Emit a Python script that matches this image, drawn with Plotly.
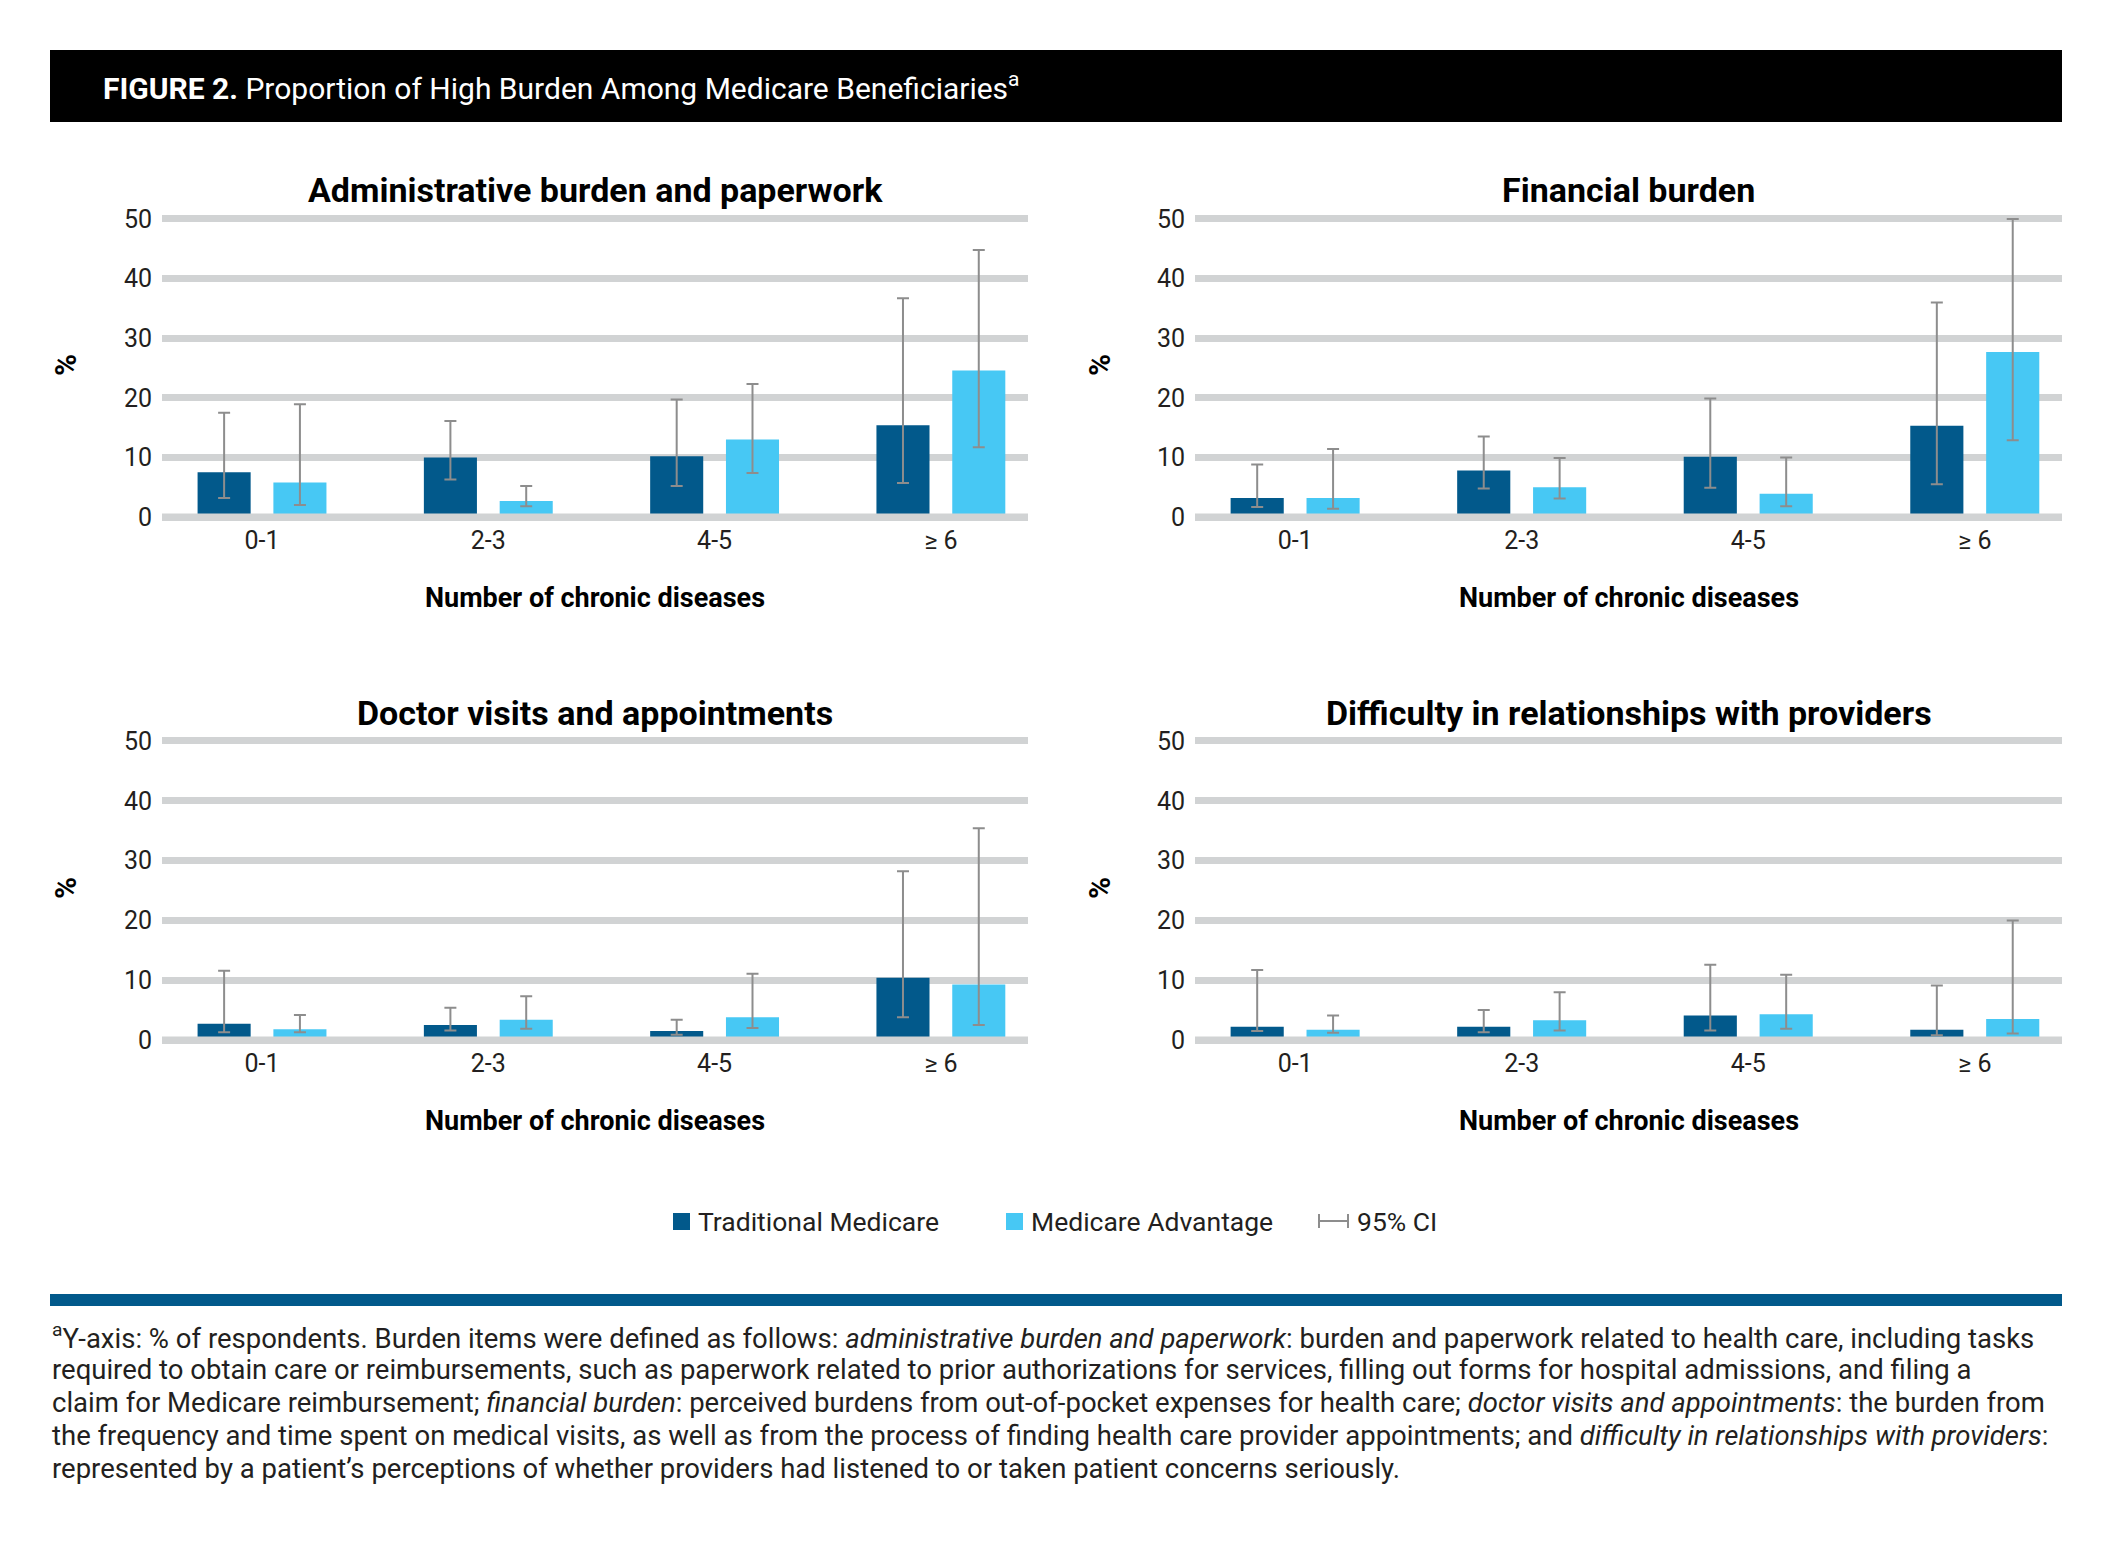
import plotly.graph_objects as go

W, H = 2113, 1546

categories = ["0-1", "2-3", "4-5", "≥ 6"]
panel_titles = [
    "Administrative burden and paperwork",
    "Financial burden",
    "Doctor visits and appointments",
    "Difficulty in relationships with providers",
]

# Traditional Medicare / Medicare Advantage: value, lower CI, upper CI
tm_admin = [7.5, 10.0, 10.2, 15.4]
tm_admin_lo = [3.2, 6.3, 5.2, 5.7]
tm_admin_hi = [17.5, 16.1, 19.7, 36.7]
ma_admin = [5.8, 2.7, 13.0, 24.6]
ma_admin_lo = [2.0, 1.8, 7.4, 11.7]
ma_admin_hi = [18.9, 5.2, 22.3, 44.8]

tm_fin = [3.2, 7.8, 10.1, 15.3]
tm_fin_lo = [1.7, 4.8, 4.9, 5.5]
tm_fin_hi = [8.8, 13.5, 19.9, 36.0]
ma_fin = [3.2, 5.0, 3.9, 27.7]
ma_fin_lo = [1.4, 3.1, 1.8, 12.9]
ma_fin_hi = [11.4, 9.9, 10.0, 50.0]

tm_doc = [2.7, 2.5, 1.5, 10.4]
tm_doc_lo = [1.3, 1.6, 0.9, 3.8]
tm_doc_hi = [11.6, 5.4, 3.4, 28.2]
ma_doc = [1.8, 3.4, 3.8, 9.3]
ma_doc_lo = [1.3, 1.9, 2.0, 2.5]
ma_doc_hi = [4.2, 7.3, 11.1, 35.4]

tm_rel = [2.2, 2.2, 4.1, 1.7]
tm_rel_lo = [1.5, 1.3, 1.6, 0.8]
tm_rel_hi = [11.7, 5.0, 12.6, 9.1]
ma_rel = [1.7, 3.3, 4.3, 3.5]
ma_rel_lo = [1.2, 1.6, 1.9, 1.1]
ma_rel_hi = [4.1, 8.0, 10.9, 20.0]

y_ticks = [0, 10, 20, 30, 40, 50]

TM_COLOR = "#02598b"
MA_COLOR = "#47c8f4"
GRID = "#d1d3d4"
ERR = "#8d8d8d"
TEXT = "#231f20"
FONT = "Roboto"

panels = [
    (tm_admin, tm_admin_lo, tm_admin_hi, ma_admin, ma_admin_lo, ma_admin_hi),
    (tm_fin, tm_fin_lo, tm_fin_hi, ma_fin, ma_fin_lo, ma_fin_hi),
    (tm_doc, tm_doc_lo, tm_doc_hi, ma_doc, ma_doc_lo, ma_doc_hi),
    (tm_rel, tm_rel_lo, tm_rel_hi, ma_rel, ma_rel_lo, ma_rel_hi),
]


def px_x(v):
    return v / W


def px_y(v):
    return 1 - v / H


# plot-area pixel boxes
x_cols = [(162, 1028), (1195, 2062)]
y_rows = [(213, 523), (735, 1046)]   # range [-1, 51]

fig = go.Figure()
layout_axes = {}
shapes = []
annotations = []

for i, (tm, tml, tmh, ma, mal, mah) in enumerate(panels):
    r, c = divmod(i, 2)
    xa = "x" if i == 0 else f"x{i+1}"
    ya = "y" if i == 0 else f"y{i+1}"
    xkey = "xaxis" if i == 0 else f"xaxis{i+1}"
    ykey = "yaxis" if i == 0 else f"yaxis{i+1}"
    fig.add_trace(go.Bar(
        x=categories, y=tm, name="Traditional Medicare", marker_color=TM_COLOR,
        marker_line_width=0, xaxis=xa, yaxis=ya, showlegend=False,
        error_y=dict(type="data", symmetric=False,
                     array=[h - v for h, v in zip(tmh, tm)],
                     arrayminus=[v - l for v, l in zip(tm, tml)],
                     color=ERR, thickness=2, width=6),
    ))
    fig.add_trace(go.Bar(
        x=categories, y=ma, name="Medicare Advantage", marker_color=MA_COLOR,
        marker_line_width=0, xaxis=xa, yaxis=ya, showlegend=False,
        error_y=dict(type="data", symmetric=False,
                     array=[h - v for h, v in zip(mah, ma)],
                     arrayminus=[v - l for v, l in zip(ma, mal)],
                     color=ERR, thickness=2, width=6),
    ))
    x0, x1 = x_cols[c]
    yt, yb = y_rows[r]
    layout_axes[xkey] = dict(
        domain=[px_x(x0), px_x(x1)], anchor=ya, range=[-0.442, 3.385],
        showgrid=False, zeroline=False, showline=False, automargin=False,
        ticks="", tickfont=dict(family=FONT, size=25, color=TEXT), fixedrange=True,
    )
    layout_axes[ykey] = dict(
        domain=[px_y(yb), px_y(yt)], anchor=xa, range=[-1, 51],
        tickvals=y_ticks, showgrid=True, gridcolor=GRID, gridwidth=7,
        zeroline=False, showline=False, automargin=False, ticks="outside", ticklen=4,
        tickcolor="rgba(0,0,0,0)", tickfont=dict(family=FONT, size=25, color=TEXT),
        fixedrange=True,
    )
    # zero baseline band drawn over the bars' bases
    shapes.append(dict(type="line", xref=f"{xa} domain", yref=ya, x0=0, x1=1,
                       y0=0, y1=0, line=dict(color=GRID, width=7), layer="above"))
    cx = (x0 + x1) / 2
    title_y = 190 if r == 0 else 713
    annotations.append(dict(text=f"<b>{panel_titles[i]}</b>", x=px_x(cx), y=px_y(title_y),
                            xref="paper", yref="paper", xanchor="center", yanchor="middle",
                            showarrow=False, font=dict(family=FONT, size=34, color="#000")))
    xt_y = 598 if r == 0 else 1121
    annotations.append(dict(text="<b>Number of chronic diseases</b>", x=px_x(cx), y=px_y(xt_y),
                            xref="paper", yref="paper", xanchor="center", yanchor="middle",
                            showarrow=False, font=dict(family=FONT, size=27, color="#000")))
    pct_x = 65 if c == 0 else 1099
    pct_y = 365 if r == 0 else 888
    annotations.append(dict(text="<b>%</b>", x=px_x(pct_x), y=px_y(pct_y), textangle=-90,
                            xref="paper", yref="paper", xanchor="center", yanchor="middle",
                            showarrow=False, font=dict(family=FONT, size=30, color="#000")))

# header bar
shapes.append(dict(type="rect", xref="paper", yref="paper", x0=px_x(50), x1=px_x(2062),
                   y0=px_y(122), y1=px_y(50), fillcolor="#000", line_width=0, layer="below"))
annotations.append(dict(
    text="<b>FIGURE 2.</b> Proportion of High Burden Among Medicare Beneficiaries<sup>a</sup>",
    x=px_x(101), y=px_y(87), xref="paper", yref="paper", xanchor="left", yanchor="middle",
    showarrow=False, font=dict(family=FONT, size=30, color="#fff")))

# legend
leg_y = 1221
LEG_SIZE = 26.5
shapes.append(dict(type="rect", xref="paper", yref="paper", x0=px_x(673), x1=px_x(690),
                   y0=px_y(1230), y1=px_y(1213), fillcolor=TM_COLOR, line_width=0))
annotations.append(dict(text="Traditional Medicare", x=px_x(696), y=px_y(leg_y),
                        xref="paper", yref="paper", xanchor="left", yanchor="middle",
                        showarrow=False, font=dict(family=FONT, size=LEG_SIZE, color=TEXT)))
shapes.append(dict(type="rect", xref="paper", yref="paper", x0=px_x(1006), x1=px_x(1023),
                   y0=px_y(1230), y1=px_y(1213), fillcolor=MA_COLOR, line_width=0))
annotations.append(dict(text="Medicare Advantage", x=px_x(1029), y=px_y(leg_y),
                        xref="paper", yref="paper", xanchor="left", yanchor="middle",
                        showarrow=False, font=dict(family=FONT, size=LEG_SIZE, color=TEXT)))
for seg in [(1318, leg_y, 1349, leg_y), (1319, leg_y - 7, 1319, leg_y + 7),
            (1348, leg_y - 7, 1348, leg_y + 7)]:
    shapes.append(dict(type="line", xref="paper", yref="paper", x0=px_x(seg[0]), y0=px_y(seg[1]),
                       x1=px_x(seg[2]), y1=px_y(seg[3]), line=dict(color=ERR, width=2)))
annotations.append(dict(text="95% CI", x=px_x(1355), y=px_y(leg_y),
                        xref="paper", yref="paper", xanchor="left", yanchor="middle",
                        showarrow=False, font=dict(family=FONT, size=LEG_SIZE, color=TEXT)))

# blue separator
shapes.append(dict(type="rect", xref="paper", yref="paper", x0=px_x(50), x1=px_x(2062),
                   y0=px_y(1306), y1=px_y(1294), fillcolor=TM_COLOR, line_width=0))

foot_lines = [
    "<sup>a</sup>Y-axis: % of respondents. Burden items were defined as follows: <i>administrative burden and paperwork</i>: burden and paperwork related to health care, including tasks",
    "required to obtain care or reimbursements, such as paperwork related to prior authorizations for services, filling out forms for hospital admissions, and filing a",
    "claim for Medicare reimbursement; <i>financial burden</i>: perceived burdens from out-of-pocket expenses for health care; <i>doctor visits and appointments</i>: the burden from",
    "the frequency and time spent on medical visits, as well as from the process of finding health care provider appointments; and <i>difficulty in relationships with providers</i>:",
    "represented by a patient’s perceptions of whether providers had listened to or taken patient concerns seriously.",
]
foot_y = [1336, 1369, 1402, 1435, 1468]
for line, yy in zip(foot_lines, foot_y):
    annotations.append(dict(text=line, x=px_x(50), y=px_y(yy), xref="paper", yref="paper",
                            xanchor="left", yanchor="middle", showarrow=False,
                            font=dict(family=FONT, size=27.5, color=TEXT)))

fig.update_layout(
    width=W, height=H, margin=dict(l=0, r=0, t=0, b=0, pad=0, autoexpand=False),
    paper_bgcolor="#fff", plot_bgcolor="#fff",
    barmode="group", bargap=0.33, bargroupgap=0.3,
    showlegend=False, shapes=shapes, annotations=annotations,
    font=dict(family=FONT, color=TEXT),
    **layout_axes,
)

page_css = (
    "document.documentElement.style.margin='0';"
    "document.documentElement.style.padding='0';"
    "document.documentElement.style.overflow='hidden';"
    "document.body.style.margin='0';"
    "document.body.style.padding='0';"
    "document.body.style.overflow='hidden';"
)

fig.write_html("out.html", config={"displayModeBar": False}, post_script=page_css)
